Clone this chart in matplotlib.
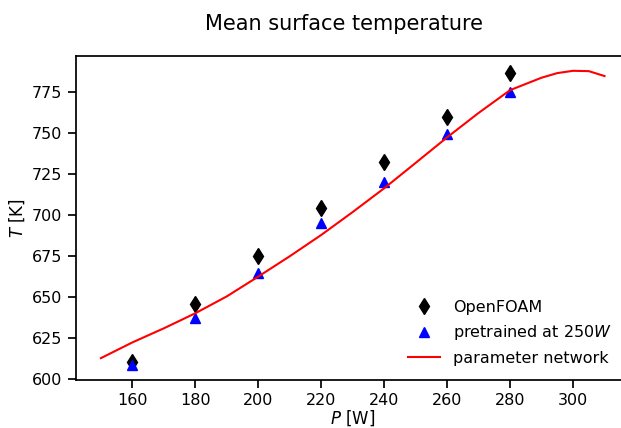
import matplotlib
matplotlib.use("Agg")
import matplotlib.pyplot as plt

P_sim = [160, 180, 200, 220, 240, 260, 280]
T_openfoam = [610.7, 645.9, 675.4, 704.6, 732.7, 760.1, 787.0]
T_pretrained = [608.7, 637.2, 665.0, 695.5, 720.5, 749.6, 775.0]

P_net = [150, 160, 170, 180, 190, 200, 210, 220, 230, 240, 250, 260, 270, 280, 290, 295, 300, 305, 310]
T_net = [612.8, 622.4, 631.0, 640.2, 650.5, 662.6, 675.0, 688.0, 702.0, 716.5, 732.0, 747.6, 762.5, 776.4,
         784.0, 786.8, 788.2, 788.0, 785.0]

xticks = [160, 180, 200, 220, 240, 260, 280, 300]
yticks = [600, 625, 650, 675, 700, 725, 750, 775]

plt.rcParams.update({
    "font.family": "DejaVu Sans",
    "axes.linewidth": 1.25,
    "xtick.major.size": 6,
    "ytick.major.size": 6,
    "xtick.major.width": 1.25,
    "ytick.major.width": 1.25,
})

fig = plt.figure(figsize=(6.21, 4.28), dpi=100)
ax = fig.add_axes([0.122, 0.112, 0.892, 0.757])

ax.plot(P_sim, T_openfoam, linestyle="none", marker="d", color="black", markersize=8, label="OpenFOAM")
ax.plot(P_sim, T_pretrained, linestyle="none", marker="^", color="blue", markersize=7, label="pretrained at 250$W$")
ax.plot(P_net, T_net, color="red", linewidth=1.5, label="parameter network")

ax.set_xticks(xticks)
ax.set_yticks(yticks)
ax.tick_params(labelsize=11.5)
ax.set_xlim(142, 318)
ax.set_ylim(599.4, 797.2)
ax.set_xlabel("$P$ [W]", fontsize=12, labelpad=0)
ax.set_ylabel("$T$ [K]", fontsize=12)
fig.suptitle("Mean surface temperature", x=344 / 621, y=1 - 24.5 / 428, va="center", fontsize=15)
ax.spines["right"].set_visible(False)

ax.legend(loc="lower right", frameon=False, fontsize=11.5, labelspacing=0.52,
          bbox_to_anchor=(0.9935, 0.0))

fig.savefig("out.png", dpi=100)
